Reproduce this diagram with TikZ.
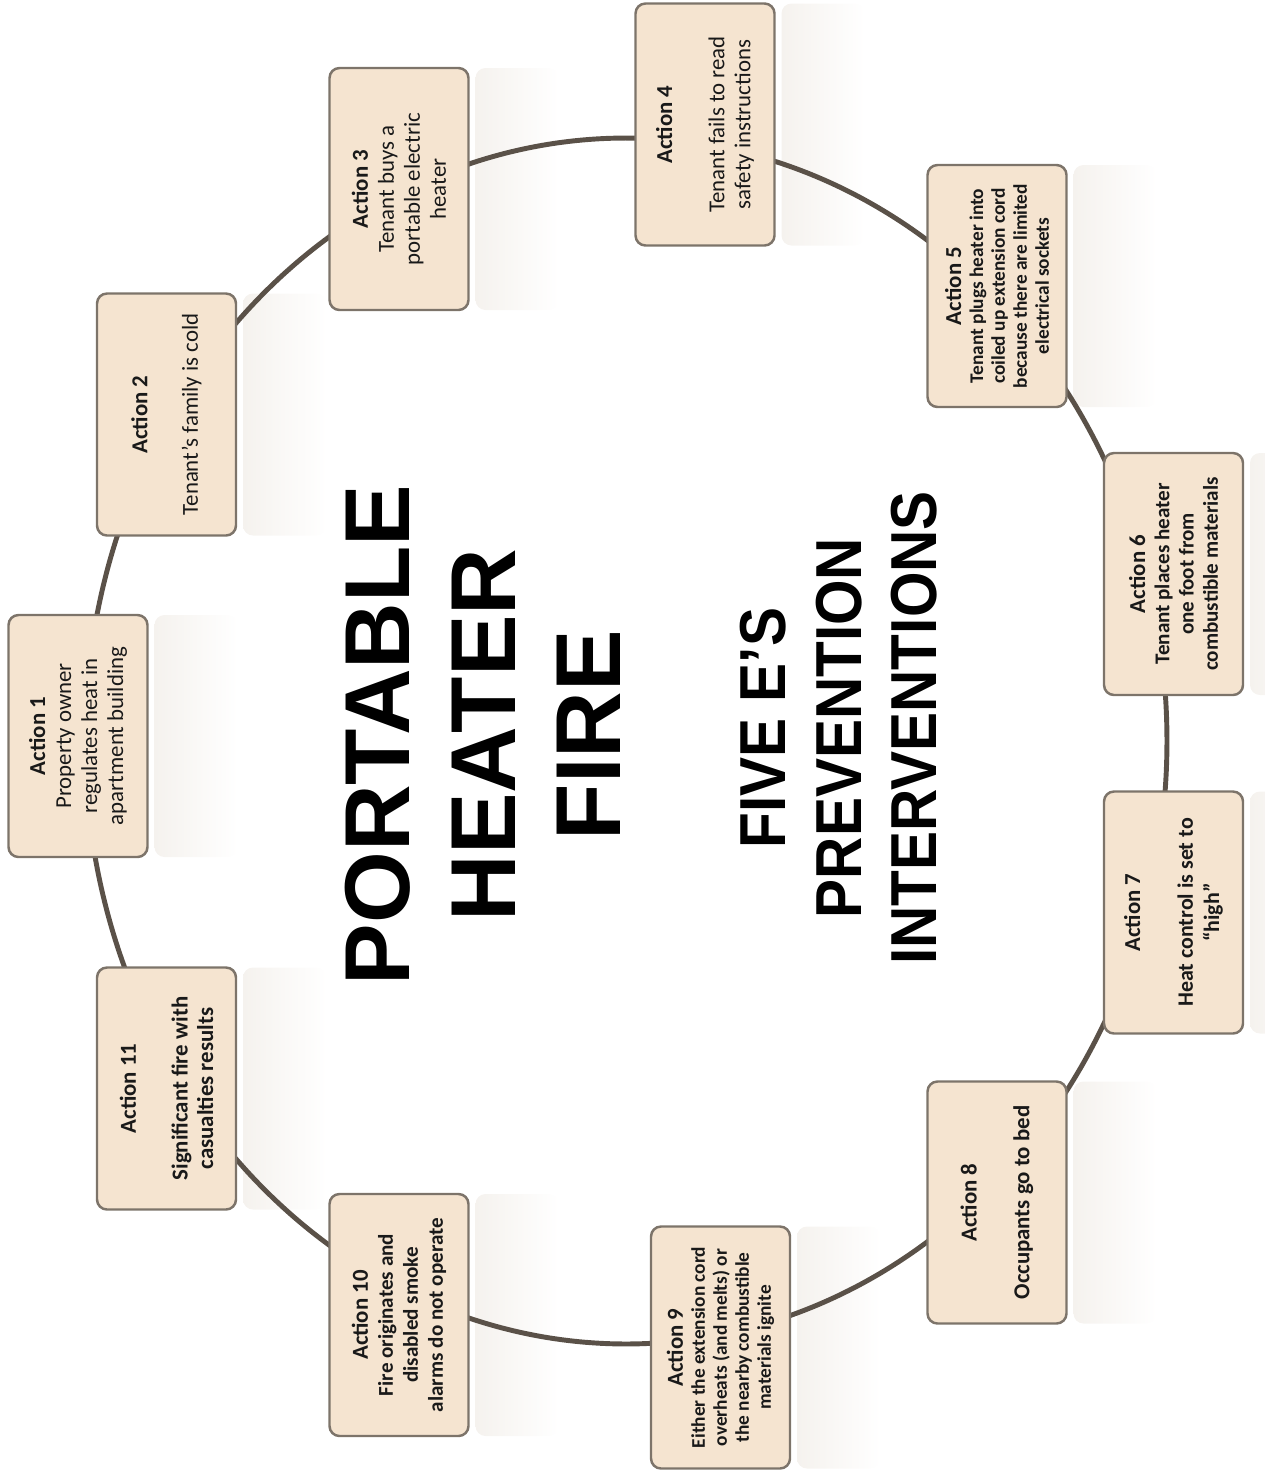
\documentclass[tikz,border=0pt]{standalone}
\usepackage{fontspec}
\setmainfont{Carlito}
\newfontfamily\heavyfont{Liberation Sans}
\newfontfamily\narrowfont[FakeStretch=0.9]{Liberation Sans}
\usetikzlibrary{calc}

\definecolor{boxfill}{HTML}{F5E4D0}
\definecolor{boxline}{HTML}{7D746A}
\definecolor{linkcol}{HTML}{5A5148}
\definecolor{reffill}{HTML}{F5F2EE}

\pgfdeclarelayer{refl}
\pgfdeclarelayer{links}
\pgfsetlayers{refl,links,main}

\tikzset{
  action/.style={rotate=90, draw=boxline, fill=boxfill, line width=1.4pt,
    rounded corners=0.2cm, minimum width=4.84cm, minimum height=2.78cm,
    inner sep=2pt, align=center, text=black!90},
  link/.style={draw=linkcol, line width=2.8pt},
  bigtitle/.style={rotate=90, align=center, inner sep=0pt, text=black}
}

\newcommand{\acttitle}[1]{{\bfseries\fontsize{13}{15}\selectfont #1}}
% box plus its faded reflection on the right
\newcommand{\actbox}[4]{%
  \node[action, font=#3] (#1) at (#2) {#4};
  \begin{pgfonlayer}{refl}
    \shade[left color=reffill, right color=white, rounded corners=0.2cm]
      ($(#1)+(1.53,-2.42)$) rectangle ($(#1)+(3.2,2.42)$);
  \end{pgfonlayer}}

\begin{document}
\begin{tikzpicture}
    \useasboundingbox (0,0) rectangle (25.28,-29.44);

    \actbox{a1}{1.56,-14.72}{\fontsize{13}{14.8}\selectfont}
      {\acttitle{Action 1}\\Property owner\\regulates heat in\\apartment building}
    \actbox{a2}{3.33,-8.29}{\fontsize{13}{14.8}\selectfont}
      {\acttitle{Action 2}\\[14pt]Tenant’s family is cold}
    \actbox{a3}{7.98,-3.78}{\fontsize{13}{14.8}\selectfont}
      {\acttitle{Action 3}\\Tenant buys a\\portable electric\\heater}
    \actbox{a4}{14.10,-2.49}{\fontsize{13}{14.8}\selectfont}
      {\acttitle{Action 4}\\[15pt]Tenant fails to read\\safety instructions}
    \actbox{a5}{19.94,-5.72}{\bfseries\fontsize{11}{12.5}\selectfont}
      {\acttitle{Action 5}\\Tenant plugs heater into\\coiled up extension cord\\because there are limited\\electrical sockets}
    \actbox{a6}{23.47,-11.48}{\bfseries\fontsize{12}{13.8}\selectfont}
      {\acttitle{Action 6}\\Tenant places heater\\one foot from\\combustible materials}
    \actbox{a7}{23.47,-18.25}{\bfseries\fontsize{12.5}{15}\selectfont}
      {\acttitle{Action 7}\\[15pt]Heat control is set to\\“high”}
    \actbox{a8}{19.94,-24.05}{\bfseries\fontsize{13}{15}\selectfont}
      {\acttitle{Action 8}\\[15pt]Occupants go to bed}
    \actbox{a9}{14.41,-26.95}{\bfseries\fontsize{11}{12.5}\selectfont}
      {\acttitle{Action 9}\\Either the extension cord\\overheats (and melts) or\\the nearby combustible\\materials ignite}
    \actbox{a10}{7.98,-26.30}{\bfseries\fontsize{12}{14.2}\selectfont}
      {\acttitle{Action 10}\\Fire originates and\\disabled smoke\\alarms do not operate}
    \actbox{a11}{3.33,-21.77}{\bfseries\fontsize{13}{14.5}\selectfont}
      {\acttitle{Action 11}\\[15pt]Significant fire with\\casualties results}

    \node[bigtitle, font=\heavyfont\bfseries\fontsize{52.5}{60}\selectfont] (heater) at (9.66,-14.7) {PORTABLE\\HEATER\\FIRE};
    \node[bigtitle, font=\narrowfont\bfseries\fontsize{37}{43}\selectfont] (fivees) at (16.78,-14.56) {FIVE E’S\\PREVENTION\\INTERVENTIONS};

    % ring points, one inside each box
    \coordinate (o) at (12.52,-14.82);
    \path (o) ++(180:10.82 and 12.06) coordinate (c1);
    \path (o) ++(147.5:10.82 and 12.06) coordinate (c2);
    \path (o) ++(114.6:10.82 and 12.06) coordinate (c3);
    \path (o) ++(81.8:10.82 and 12.06) coordinate (c4);
    \path (o) ++(47.7:10.82 and 12.06) coordinate (c5);
    \path (o) ++(15.3:10.82 and 12.06) coordinate (c6);
    \path (o) ++(-15.7:10.82 and 12.06) coordinate (c7);
    \path (o) ++(-48.1:10.82 and 12.06) coordinate (c8);
    \path (o) ++(-80.2:10.82 and 12.06) coordinate (c9);
    \path (o) ++(-113.8:10.82 and 12.06) coordinate (c10);
    \path (o) ++(-145.9:10.82 and 12.06) coordinate (c11);

    \begin{pgfonlayer}{links}
    \draw[link] (c1) arc[start angle=180, end angle=147.5, x radius=10.82, y radius=12.06];
    \draw[link] (c2) arc[start angle=147.5, end angle=114.6, x radius=10.82, y radius=12.06];
    \draw[link] (c3) arc[start angle=114.6, end angle=81.8, x radius=10.82, y radius=12.06];
    \draw[link] (c4) arc[start angle=81.8, end angle=47.7, x radius=10.82, y radius=12.06];
    \draw[link] (c5) arc[start angle=47.7, end angle=15.3, x radius=10.82, y radius=12.06];
    \draw[link] (c6) arc[start angle=15.3, end angle=-15.7, x radius=10.82, y radius=12.06];
    \draw[link] (c7) arc[start angle=-15.7, end angle=-48.1, x radius=10.82, y radius=12.06];
    \draw[link] (c8) arc[start angle=-48.1, end angle=-80.2, x radius=10.82, y radius=12.06];
    \draw[link] (c9) arc[start angle=-80.2, end angle=-113.8, x radius=10.82, y radius=12.06];
    \draw[link] (c10) arc[start angle=-113.8, end angle=-145.9, x radius=10.82, y radius=12.06];
    \draw[link] (c11) arc[start angle=-145.9, end angle=-180, x radius=10.82, y radius=12.06];
    \end{pgfonlayer}
\end{tikzpicture}
\end{document}
